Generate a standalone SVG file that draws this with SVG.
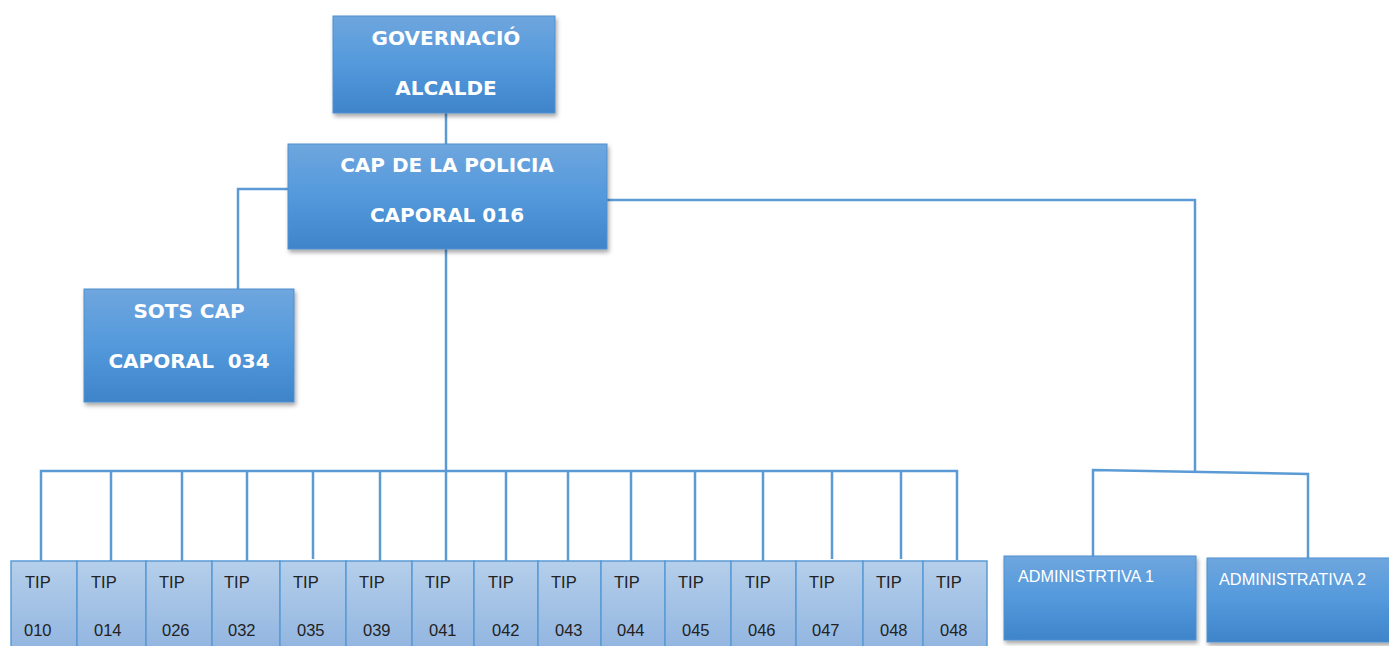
<svg xmlns="http://www.w3.org/2000/svg" width="1389" height="646" viewBox="0 0 1389 646">
<defs>
<linearGradient id="gBox" x1="0" y1="0" x2="0" y2="1">
<stop offset="0" stop-color="#6fa6de"/>
<stop offset="0.5" stop-color="#5399dc"/>
<stop offset="1" stop-color="#3f84c9"/>
</linearGradient>
<linearGradient id="gTip" x1="0" y1="0" x2="0" y2="1">
<stop offset="0" stop-color="#b5cfeb"/>
<stop offset="1" stop-color="#8fb3df"/>
</linearGradient>
<filter id="sh" x="-10%" y="-10%" width="125%" height="130%">
<feDropShadow dx="1.5" dy="3" stdDeviation="2" flood-color="#000" flood-opacity="0.35"/>
</filter>
</defs>
<style>
.box{fill:url(#gBox);stroke:#4f8fd0;stroke-width:1;filter:url(#sh)}
.tip{fill:url(#gTip);stroke:#5b9bd5;stroke-width:1.5}
.bt{font-family:"DejaVu Sans",sans-serif;font-weight:bold;font-size:20px;fill:#fff;text-anchor:middle}
.at{font-family:"Liberation Sans",Arial,sans-serif;font-size:17px;fill:#fff}
.tt{font-family:"Liberation Sans",Arial,sans-serif;font-size:16.5px;fill:#222}
.ln{fill:none;stroke:#5b9bd5;stroke-width:2.5}
</style>
<rect width="1389" height="646" fill="#fff"/>
<g id="connectors">
<path class="ln" d="M446 113V144"/>
<path class="ln" d="M288 189H238V290"/>
<path class="ln" d="M607 200H1195V471"/>
<path class="ln" d="M1093 556V470L1308 474V561"/>
<path class="ln" d="M446 249V471"/>
<path class="ln" d="M41 561V471H957V560"/>
<path class="ln" d="M111 471V561M182 471V561M247 471V561M313 471V559M380 471V561M446 471V561M506 471V561M568 471V561M631 471V561M695 471V561M763 471V561M832 471V559M901 471V559"/>
</g>
<g id="gov">
<rect class="box" x="333" y="16" width="222" height="97"/>
<text class="bt" x="446" y="45">GOVERNACIÓ</text>
<text class="bt" x="446" y="95">ALCALDE</text>
</g>
<g id="cap">
<rect class="box" x="288" y="144" width="319" height="105"/>
<text class="bt" x="447" y="172">CAP DE LA POLICIA</text>
<text class="bt" x="447" y="222">CAPORAL 016</text>
</g>
<g id="sots">
<rect class="box" x="84" y="289" width="210" height="113"/>
<text class="bt" x="189" y="318">SOTS CAP</text>
<text class="bt" x="189" y="368" xml:space="preserve">CAPORAL  034</text>
</g>
<g id="adm1">
<rect class="box" x="1004" y="556" width="192" height="84"/>
<text class="at" x="1018" y="582" textLength="136" lengthAdjust="spacingAndGlyphs">ADMINISTRTIVA 1</text>
</g>
<g id="adm2">
<rect class="box" x="1207" y="558" width="186" height="84"/>
<text class="at" x="1219" y="585" textLength="147" lengthAdjust="spacingAndGlyphs">ADMINISTRATIVA 2</text>
</g>
<g id="tip010"><rect class="tip" x="11" y="561" width="66" height="95"/><text class="tt" x="25" y="588">TIP</text><text class="tt" x="24" y="636">010</text></g>
<g id="tip014"><rect class="tip" x="77" y="561" width="69" height="95"/><text class="tt" x="91" y="588">TIP</text><text class="tt" x="94" y="636">014</text></g>
<g id="tip026"><rect class="tip" x="146" y="561" width="66" height="95"/><text class="tt" x="159" y="588">TIP</text><text class="tt" x="162" y="636">026</text></g>
<g id="tip032"><rect class="tip" x="212" y="561" width="68" height="95"/><text class="tt" x="224" y="588">TIP</text><text class="tt" x="228" y="636">032</text></g>
<g id="tip035"><rect class="tip" x="280" y="561" width="66" height="95"/><text class="tt" x="293" y="588">TIP</text><text class="tt" x="297" y="636">035</text></g>
<g id="tip039"><rect class="tip" x="346" y="561" width="66" height="95"/><text class="tt" x="359" y="588">TIP</text><text class="tt" x="363" y="636">039</text></g>
<g id="tip041"><rect class="tip" x="412" y="561" width="62" height="95"/><text class="tt" x="425" y="588">TIP</text><text class="tt" x="429" y="636">041</text></g>
<g id="tip042"><rect class="tip" x="474" y="561" width="64" height="95"/><text class="tt" x="488" y="588">TIP</text><text class="tt" x="492" y="636">042</text></g>
<g id="tip043"><rect class="tip" x="538" y="561" width="63" height="95"/><text class="tt" x="551" y="588">TIP</text><text class="tt" x="555" y="636">043</text></g>
<g id="tip044"><rect class="tip" x="601" y="561" width="64" height="95"/><text class="tt" x="614" y="588">TIP</text><text class="tt" x="617" y="636">044</text></g>
<g id="tip045"><rect class="tip" x="665" y="561" width="66" height="95"/><text class="tt" x="678" y="588">TIP</text><text class="tt" x="682" y="636">045</text></g>
<g id="tip046"><rect class="tip" x="731" y="561" width="65" height="95"/><text class="tt" x="745" y="588">TIP</text><text class="tt" x="748" y="636">046</text></g>
<g id="tip047"><rect class="tip" x="796" y="561" width="67" height="95"/><text class="tt" x="809" y="588">TIP</text><text class="tt" x="812" y="636">047</text></g>
<g id="tip048a"><rect class="tip" x="863" y="561" width="60" height="95"/><text class="tt" x="876" y="588">TIP</text><text class="tt" x="880" y="636">048</text></g>
<g id="tip048b"><rect class="tip" x="923" y="561" width="64" height="95"/><text class="tt" x="936" y="588">TIP</text><text class="tt" x="940" y="636">048</text></g>
</svg>
